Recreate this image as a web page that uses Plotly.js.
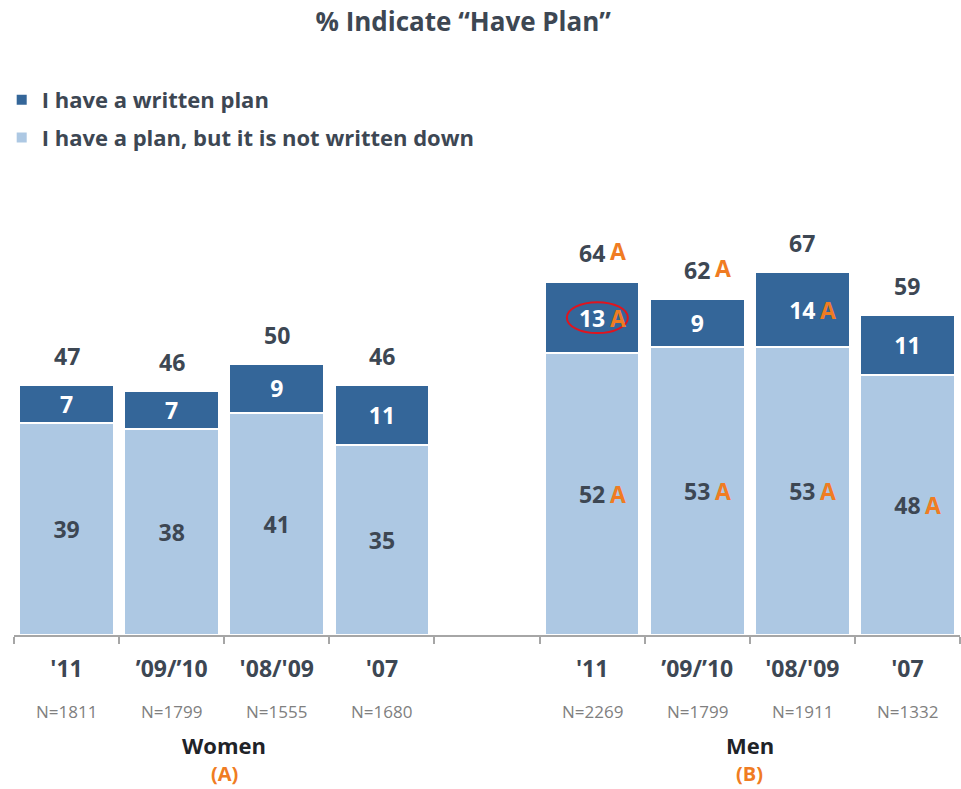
<!DOCTYPE html>
<html>
<head>
<meta charset="utf-8">
<script src="https://cdn.plot.ly/plotly-3.0.1.min.js"></script>
<style>
  html, body { margin: 0; padding: 0; background: #ffffff; }
  #chart { width: 961px; height: 789px; }
</style>
</head>
<body>
<div id="chart"></div>
<script>
// Category slots: four Women years, an empty spacer slot, four Men years
const slotIds    = ["W11", "W0910", "W0809", "W07", "gap", "M11", "M0910", "M0809", "M07"];
const slotLabels = ["'11", "\u201909/\u201910", "'08/'09", "'07", "", "'11", "\u201909/\u201910", "'08/'09", "'07"];

// Bars (spacer slot excluded)
const barIds      = ["W11", "W0910", "W0809", "W07", "M11", "M0910", "M0809", "M07"];
const sampleSizes = ["N=1811", "N=1799", "N=1555", "N=1680", "N=2269", "N=1799", "N=1911", "N=1332"];

// Percent values
const notWritten = [39, 38, 41, 35, 52, 53, 53, 48];
const written    = [7, 7, 9, 11, 13, 9, 14, 11];
const totals     = [47, 46, 50, 46, 64, 62, 67, 59];

// Significance letters (vs. Women)
const sigNotWritten = ["", "", "", "", "A", "A", "A", "A"];
const sigWritten    = ["", "", "", "", "A", "", "A", ""];
const sigTotal      = ["", "", "", "", "A", "A", "", ""];

// Group captions
const groupNames   = ["Women", "Men"];
const groupLetters = ["(A)", "(B)"];
const groupCenters = [1.5, 6.5];

const FONT = "'Open Sans', 'Noto Sans', sans-serif";
const DARK_TEXT = "#3d4753";
const ORANGE = "#f07c22";
const BLUE_DARK = "#346699";
const BLUE_LIGHT = "#adc8e3";
const VALUE_SIZE = 23;

const traces = [
  {
    type: "bar",
    name: "I have a plan, but it is not written down",
    x: barIds,
    y: notWritten,
    text: notWritten.map(String),
    textposition: "inside",
    insidetextanchor: "middle",
    textangle: 0,
    constraintext: "none",
    textfont: { family: FONT, size: VALUE_SIZE, color: DARK_TEXT, weight: 700 },
    marker: { color: BLUE_LIGHT, line: { color: "#ffffff", width: 2 } },
    hoverinfo: "skip",
    legendgroup: "notwritten",
    legendrank: 2
  },
  {
    type: "bar",
    name: "I have a written plan",
    x: barIds,
    y: written,
    text: written.map(String),
    textposition: "inside",
    insidetextanchor: "middle",
    textangle: 0,
    constraintext: "none",
    textfont: { family: FONT, size: VALUE_SIZE, color: "#ffffff", weight: 700 },
    marker: { color: BLUE_DARK, line: { color: "#ffffff", width: 2 } },
    hoverinfo: "skip",
    legendgroup: "written",
    legendrank: 1
  }
];

const annotations = [];
const letterFont = { family: FONT, size: VALUE_SIZE, color: ORANGE, weight: 700 };

barIds.forEach((id, i) => {
  const top = notWritten[i] + written[i];
  // Total above the stack
  annotations.push({
    x: id, y: top, xref: "x", yref: "y",
    text: String(totals[i]), showarrow: false,
    yanchor: "bottom", yshift: 11,
    font: { family: FONT, size: VALUE_SIZE, color: DARK_TEXT, weight: 700 }
  });
  if (sigTotal[i]) {
    annotations.push({
      x: id, y: top, xref: "x", yref: "y",
      text: sigTotal[i], showarrow: false,
      yanchor: "bottom", yshift: 13, xshift: 26, font: letterFont
    });
  }
  if (sigWritten[i]) {
    annotations.push({
      x: id, y: notWritten[i] + written[i] / 2, xref: "x", yref: "y",
      text: sigWritten[i], showarrow: false, xshift: 26, font: letterFont
    });
  }
  if (sigNotWritten[i]) {
    annotations.push({
      x: id, y: notWritten[i] / 2, xref: "x", yref: "y",
      text: sigNotWritten[i], showarrow: false, xshift: 26, font: letterFont
    });
  }
  // Sample size under the year label
  annotations.push({
    x: id, y: 0, xref: "x", yref: "paper",
    text: sampleSizes[i], showarrow: false,
    yanchor: "middle", yshift: -76,
    font: { family: FONT, size: 17, color: "#808080" }
  });
});

groupNames.forEach((g, k) => {
  annotations.push({
    x: groupCenters[k], y: 0, xref: "x", yref: "paper",
    text: g, showarrow: false, yanchor: "middle", yshift: -110,
    font: { family: FONT, size: 22, color: "#1f2328", weight: 700 }
  });
  annotations.push({
    x: groupCenters[k], y: 0, xref: "x", yref: "paper",
    text: groupLetters[k], showarrow: false, yanchor: "middle", yshift: -138,
    font: { family: FONT, size: 20, color: ORANGE, weight: 700 }
  });
});

// Highlight ring around the Men '11 written-plan value
const hi = barIds.indexOf("M11");
const hiSlot = slotIds.indexOf("M11");
const hiMid = notWritten[hi] + written[hi] / 2;
const shapes = [{
  type: "circle", xref: "x", yref: "y",
  x0: hiSlot + 0.05 - 0.29, x1: hiSlot + 0.05 + 0.29,
  y0: hiMid - 2.85, y1: hiMid + 2.85,
  line: { color: "#e0141e", width: 2 }
}];

const layout = {
  width: 961,
  height: 789,
  paper_bgcolor: "#ffffff",
  plot_bgcolor: "#ffffff",
  margin: { l: 14, r: 1, t: 201, b: 154 },
  barmode: "stack",
  bargap: 0.1,
  showlegend: true,
  title: {
    text: "% Indicate \u201cHave Plan\u201d",
    x: 0.482, xref: "container", xanchor: "center",
    y: 0.972, yref: "container", yanchor: "middle",
    font: { family: FONT, size: 26, color: DARK_TEXT, weight: 700 }
  },
  legend: {
    orientation: "v",
    x: -0.013, xanchor: "left",
    y: 1.281, yanchor: "top",
    traceorder: "grouped",
    tracegroupgap: 6,
    font: { family: FONT, size: 22, color: DARK_TEXT, weight: 700 },
    bgcolor: "rgba(0,0,0,0)"
  },
  xaxis: {
    type: "category",
    categoryorder: "array",
    categoryarray: slotIds,
    tickmode: "array",
    tickvals: slotIds,
    ticktext: slotLabels,
    range: [-0.5, 8.5],
    tickson: "boundaries",
    ticks: "outside",
    ticklen: 7,
    tickwidth: 2,
    tickcolor: "#a6a6a6",
    showline: true,
    linecolor: "#a6a6a6",
    linewidth: 2,
    showgrid: false,
    zeroline: false,
    fixedrange: true,
    ticklabelstandoff: 12,
    tickfont: { family: FONT, size: 23, color: DARK_TEXT, weight: 700 }
  },
  yaxis: {
    range: [0, 80],
    visible: false,
    showgrid: false,
    zeroline: false,
    fixedrange: true
  },
  annotations: annotations,
  shapes: shapes
};

Plotly.newPlot("chart", traces, layout, { displayModeBar: false, staticPlot: true });
</script>
</body>
</html>
